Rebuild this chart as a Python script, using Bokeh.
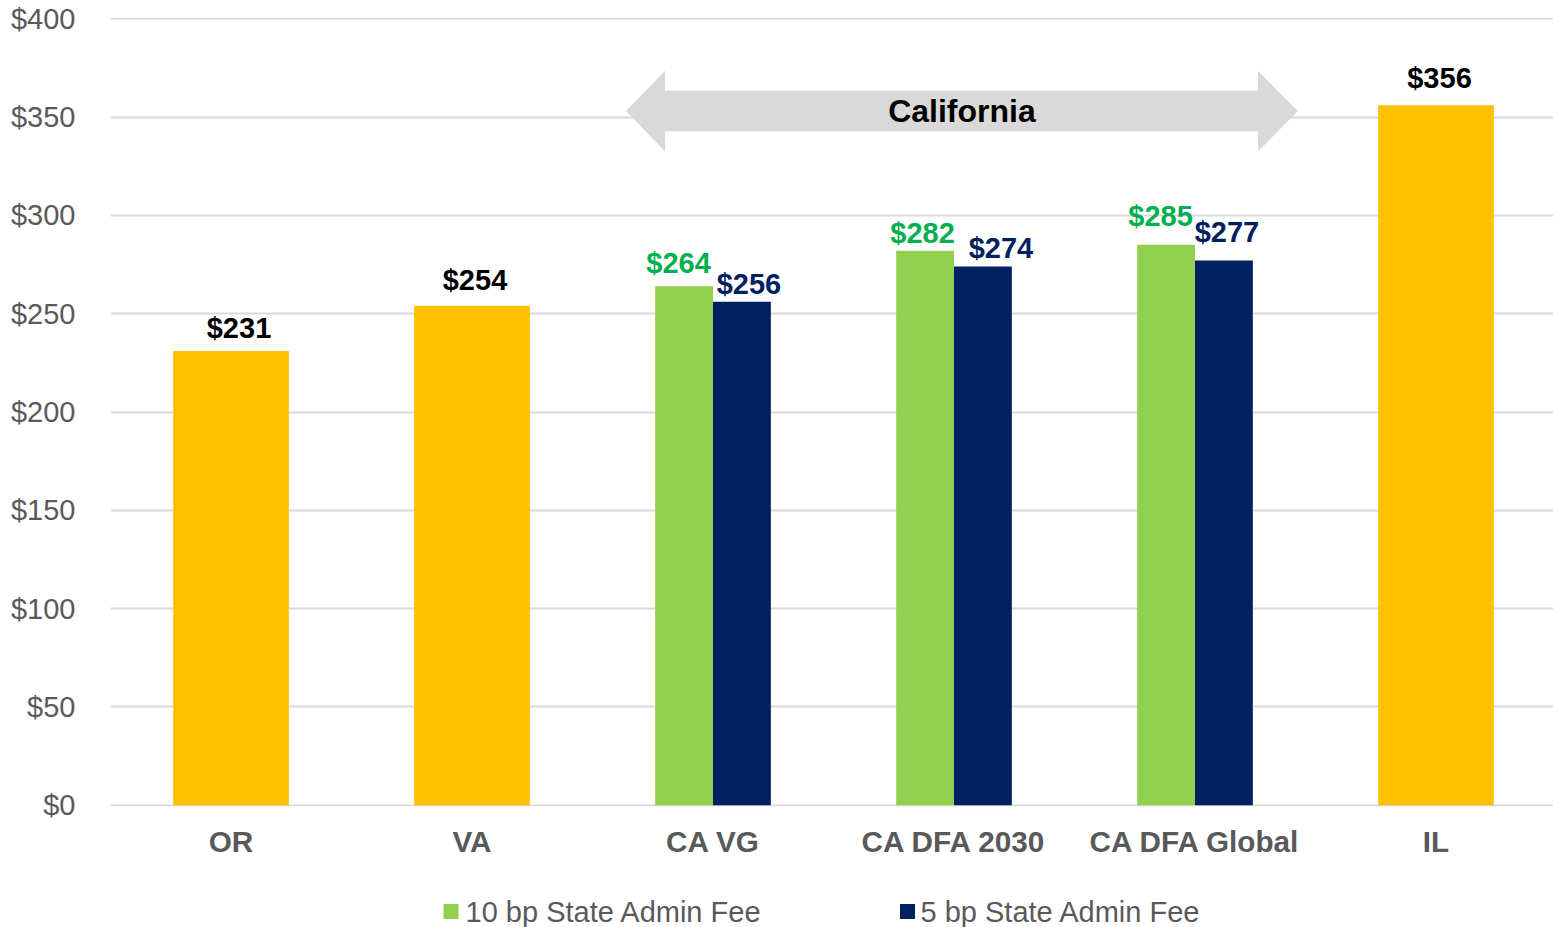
import numpy as np
from bokeh.plotting import figure
from bokeh.layouts import column
from bokeh.models import Range1d, FixedTicker, ColumnDataSource
from bokeh.core.properties import value
from bokeh.embed import file_html
from bokeh.resources import INLINE

# ---------------- data ----------------
categories = ["OR", "VA", "CA VG", "CA DFA 2030", "CA DFA Global", "IL"]
single_cats = ["OR", "VA", "IL"]
single_values = [231, 254, 356]
ca_cats = ["CA VG", "CA DFA 2030", "CA DFA Global"]
fee_10bp = [264, 282, 285]
fee_5bp = [256, 274, 277]
series_names = ["10 bp State Admin Fee", "5 bp State Admin Fee"]
y_ticks = [0, 50, 100, 150, 200, 250, 300, 350, 400]
y_tick_labels = ["$0", "$50", "$100", "$150", "$200", "$250", "$300", "$350", "$400"]
arrow_label = "California"

# ---------------- styles / label placement (pixels) ----------------
FONT = "Liberation Sans"
YELLOW = "#FFC000"
GREEN = "#92D050"
NAVY = "#002060"
GREEN_TXT = "#00B050"
GRAY_TXT = "#595959"
GRID = "#D9D9D9"

# gap (px) between bar top and label baseline, and horizontal nudge (px)
single_dx = [8, 3, 3.5]
single_gap = [13, 15, 17]
green_dx = [-5.5, -2.5, -5.5]
green_gap = [13, 7, 18]
navy_dx = [7, 18, 3]
navy_gap = [7, 8, 18]
HALF_CAP = 10.4   # baseline -> visual middle of 29px digits

W = 1553
H_MAIN, H_LEG = 880, 47
BORDER_L, BORDER_T, BORDER_B = 110, 17, 74
Y0, Y1 = -0.6, 400.6
FRAME_H = H_MAIN - BORDER_T - BORDER_B
PX_PER_UNIT = FRAME_H / (Y1 - Y0)

# legend layout (page pixels)
LEG_SQ_X = [450.5, 907]
LEG_TXT_X = [465, 920]
LEG_Y = 16
LEG_SQ = 15

pos = {c: i for i, c in enumerate(categories)}

p = figure(width=W, height=H_MAIN,
           x_range=Range1d(-0.5, -0.5 + (W - BORDER_L) / 241.0),
           y_range=Range1d(Y0, Y1),
           output_backend="svg", toolbar_location=None,
           min_border_left=BORDER_L, min_border_right=0,
           min_border_top=BORDER_T, min_border_bottom=BORDER_B)
p.outline_line_color = None
p.background_fill_color = "white"
p.border_fill_color = "white"

# axes
p.xaxis.ticker = FixedTicker(ticks=[pos[c] for c in categories])
p.xaxis.major_label_overrides = {pos[c]: c for c in categories}
p.yaxis.ticker = FixedTicker(ticks=y_ticks)
p.yaxis.major_label_overrides = {t: l for t, l in zip(y_ticks, y_tick_labels)}
for ax in (p.xaxis[0], p.yaxis[0]):
    ax.axis_line_color = None
    ax.major_tick_line_color = None
    ax.minor_tick_line_color = None
    ax.major_tick_out = 0
    ax.major_tick_in = 0
    ax.major_label_text_font = FONT
    ax.major_label_text_color = GRAY_TXT
p.xaxis.major_label_text_font_size = "29.7px"
p.xaxis.major_label_text_font_style = "bold"
p.xaxis.major_label_standoff = 18
p.yaxis.major_label_text_font_size = "29px"
p.yaxis.major_label_standoff = 35

p.xgrid.visible = False
p.ygrid.grid_line_color = GRID
p.ygrid.grid_line_width = 2

text_kw = dict(text_align="center", text_baseline="middle",
               text_font=value(FONT), text_font_style="bold", text_font_size="29px")

# single bars
single_src = ColumnDataSource(dict(
    x=[pos[c] for c in single_cats], top=single_values,
    ly=[v + (g + HALF_CAP) / PX_PER_UNIT for v, g in zip(single_values, single_gap)],
    dx=single_dx, label=["$%d" % v for v in single_values]))
p.vbar(x="x", top="top", bottom=0, width=0.48, fill_color=YELLOW,
       line_color=None, source=single_src)
p.text(x="x", y="ly", text="label", x_offset="dx", source=single_src,
       text_color="black", **text_kw)

# California grouped bars
ca_src = ColumnDataSource(dict(
    x10=[pos[c] - 0.12 for c in ca_cats], x5=[pos[c] + 0.12 for c in ca_cats],
    f10=fee_10bp, f5=fee_5bp,
    ly10=[v + (g + HALF_CAP) / PX_PER_UNIT for v, g in zip(fee_10bp, green_gap)],
    ly5=[v + (g + HALF_CAP) / PX_PER_UNIT for v, g in zip(fee_5bp, navy_gap)],
    dx10=green_dx, dx5=navy_dx,
    l10=["$%d" % v for v in fee_10bp], l5=["$%d" % v for v in fee_5bp]))
p.vbar(x="x10", top="f10", bottom=0, width=0.24, fill_color=GREEN,
       line_color=None, source=ca_src)
p.vbar(x="x5", top="f5", bottom=0, width=0.24, fill_color=NAVY,
       line_color=None, source=ca_src)
p.text(x="x10", y="ly10", text="l10", x_offset="dx10", source=ca_src,
       text_color=GREEN_TXT, **text_kw)
p.text(x="x5", y="ly5", text="l5", x_offset="dx5", source=ca_src,
       text_color=NAVY, **text_kw)

# California block arrow
l_tip = pos["CA VG"] - 0.361
l_base = pos["CA VG"] - 0.199
r_base = pos["CA DFA Global"] + 0.261
r_tip = pos["CA DFA Global"] + 0.427
yc, bh, hh = 353, 10.3, 20.5
ax_ = [l_tip, l_base, l_base, r_base, r_base, r_tip, r_base, r_base, l_base, l_base]
ay_ = [yc, yc + hh, yc + bh, yc + bh, yc + hh, yc, yc - hh, yc - bh, yc - bh, yc - hh]
p.patch(ax_, ay_, fill_color=GRID, line_color=None)
p.text(x=[(l_tip + r_tip) / 2], y=[yc], text=[arrow_label], text_align="center",
       text_baseline="middle", text_font=value(FONT), text_font_style="bold",
       text_font_size="32px", text_color="black")

# legend strip (separate figure below the chart; its frame aligns with the chart frame)
leg = figure(width=W, height=H_LEG, x_range=Range1d(BORDER_L, W), y_range=Range1d(0, H_LEG),
             output_backend="svg", toolbar_location=None,
             x_axis_type=None, y_axis_type=None,
             min_border_left=BORDER_L, min_border_right=0, min_border_top=0, min_border_bottom=0)
leg.outline_line_color = None
leg.xgrid.visible = False
leg.ygrid.visible = False
leg.scatter(x=LEG_SQ_X, y=[LEG_Y, LEG_Y], marker="square", size=LEG_SQ,
            fill_color=[GREEN, NAVY], line_color=None)
leg.text(x=LEG_TXT_X, y=[LEG_Y, LEG_Y], text=series_names, text_align="left",
         text_baseline="middle", text_font=value(FONT), text_font_size="29px",
         text_color=GRAY_TXT)

layout = column(p, leg, spacing=0)
open("out.html", "w").write(file_html(layout, INLINE))
